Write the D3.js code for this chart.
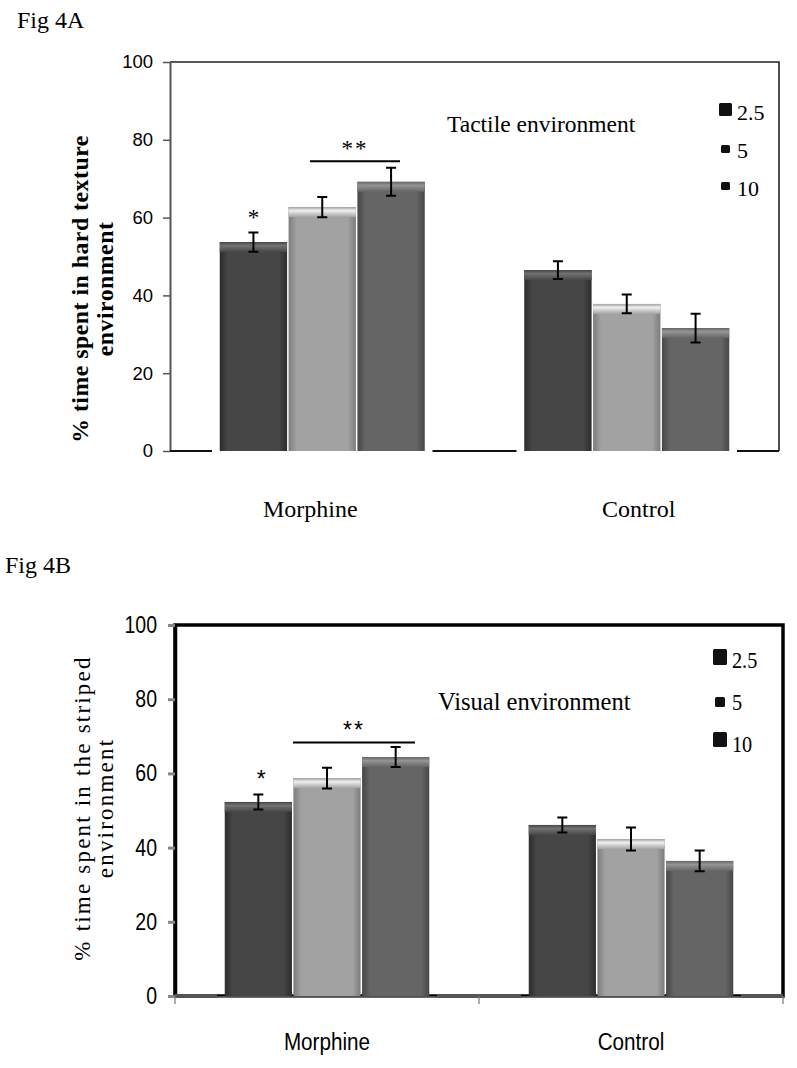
<!DOCTYPE html>
<html><head><meta charset="utf-8">
<script src="https://cdn.jsdelivr.net/npm/d3@7"></script>
<style>html,body{margin:0;padding:0;background:#fff;}svg{display:block;}</style>
</head><body>
<svg id="c" width="797" height="1068"></svg>
<script>
// ---------- data ----------
const categories = ["Morphine", "Control"];
const doses = ["2.5", "5", "10"];
const yTicks = [0, 20, 40, 60, 80, 100];
// Fig 4A: tactile environment (% time in hard texture environment)
const tactileMorphine = [53.7, 62.7, 69.2];
const tactileMorphineErr = [2.5, 2.6, 3.6];
const tactileControl = [46.5, 37.8, 31.6];
const tactileControlErr = [2.3, 2.4, 3.7];
// Fig 4B: visual environment (% time in striped environment)
const visualMorphine = [52.3, 58.7, 64.4];
const visualMorphineErr = [2.0, 2.8, 2.7];
const visualControl = [46.1, 42.3, 36.4];
const visualControlErr = [2.0, 3.1, 2.8];

const SERIF = "Liberation Serif, Times New Roman, serif";
const SANS = "Liberation Sans, Arial, sans-serif";

const svg = d3.select("#c");
const defs = svg.append("defs");
const palette = [
  {base:"#464646", edge:"#2c2c2c", top:"#727272"},
  {base:"#a2a2a2", edge:"#7c7c7c", top:"#f0f0f0"},
  {base:"#656565", edge:"#474747", top:"#959595"}
];
palette.forEach((p,i)=>{
  const g = defs.append("linearGradient").attr("id","side"+i).attr("x1","0").attr("x2","1").attr("y1","0").attr("y2","0");
  g.append("stop").attr("offset","0").attr("stop-color",p.edge);
  g.append("stop").attr("offset","0.12").attr("stop-color",p.base);
  g.append("stop").attr("offset","0.88").attr("stop-color",p.base);
  g.append("stop").attr("offset","1").attr("stop-color",p.edge);
  const t = defs.append("linearGradient").attr("id","top"+i).attr("x1","0").attr("x2","0").attr("y1","0").attr("y2","1");
  t.append("stop").attr("offset","0").attr("stop-color",p.base);
  t.append("stop").attr("offset","0.35").attr("stop-color",p.top);
  t.append("stop").attr("offset","1").attr("stop-color",p.base);
});

function narrow(sel, f){
  if (f === 1) return;
  sel.each(function(){
    const L = this.getComputedTextLength();
    d3.select(this).attr("textLength", L*f).attr("lengthAdjust","spacingAndGlyphs");
  });
}

function panel(cfg){
  const g = svg.append("g");
  const y = d3.scaleLinear().domain([0,100]).range([cfg.y0, cfg.y100]);
  const x0 = d3.scaleBand().domain(categories).range([cfg.xl, cfg.xr]).padding(0);
  const x1 = d3.scaleBand().domain(doses).range([49, x0.bandwidth()-49]).padding(0);
  const groups = [
    {cat:"Morphine", vals:cfg.m, errs:cfg.me},
    {cat:"Control", vals:cfg.c, errs:cfg.ce}
  ];
  // frame
  if (cfg.boldFrame) {
    g.append("rect").attr("x",cfg.xl).attr("y",cfg.y100).attr("width",cfg.frameR-cfg.xl).attr("height",cfg.y0-cfg.y100)
      .attr("fill","none").attr("stroke","#000").attr("stroke-width",3.5);
  } else {
    g.append("path").attr("d",`M${cfg.xl},${cfg.y100}H${cfg.frameR}V${cfg.y0}`)
      .attr("fill","none").attr("stroke","#222").attr("stroke-width",1.6);
  }
  // y axis
  const ya = g.append("g").attr("transform",`translate(${cfg.xl},0)`)
    .call(d3.axisLeft(y).tickValues(yTicks).tickSize(7).tickPadding(cfg.tickPad).tickSizeOuter(0));
  ya.select(".domain").attr("stroke", cfg.boldFrame?"#000":"#555").attr("stroke-width", cfg.boldFrame?3.5:2);
  ya.selectAll(".tick line").attr("stroke", cfg.boldFrame?"#888":"#555").attr("stroke-width", cfg.boldFrame?3:1.5);
  const tt = ya.selectAll(".tick text").attr("font-family",SANS).attr("font-size",cfg.tickSize).attr("fill","#000");
  narrow(tt, cfg.tickNarrow);
  // baseline segments
  const segs = [];
  let prev = cfg.xl;
  groups.forEach(gr=>{
    const gs = x0(gr.cat)+x1(doses[0]);
    const ge = x0(gr.cat)+x1(doses[2])+x1.bandwidth();
    segs.push([prev, gs-7]);
    prev = ge+7;
  });
  segs.push([prev, cfg.frameR]);
  if (cfg.boldFrame) {
    g.append("line").attr("x1",cfg.xl).attr("x2",cfg.frameR).attr("y1",cfg.y0+1).attr("y2",cfg.y0+1).attr("stroke","#999").attr("stroke-width",1.2);
  }
  segs.forEach(s=>{
    g.append("line").attr("x1",s[0]).attr("x2",s[1]).attr("y1",cfg.y0).attr("y2",cfg.y0)
      .attr("stroke", cfg.boldFrame?"#555":"#111").attr("stroke-width", cfg.boldFrame?4:2);
  });
  if (cfg.boldFrame) {
    [cfg.xl, x0("Control"), cfg.frameR].forEach(xx=>{
      g.append("line").attr("x1",xx).attr("x2",xx).attr("y1",cfg.y0).attr("y2",cfg.y0+8).attr("stroke","#777").attr("stroke-width",1.2);
    });
  }
  // bars
  groups.forEach(gr=>{
    gr.vals.forEach((v,i)=>{
      const bx = x0(gr.cat)+x1(doses[i]);
      const bw = x1.bandwidth();
      const by = y(v), bh = cfg.y0 - y(v);
      g.append("rect").attr("x",bx+0.75).attr("y",by).attr("width",bw-1.5).attr("height",bh)
        .attr("fill",`url(#side${i})`);
      g.append("rect").attr("x",bx+0.75).attr("y",by).attr("width",bw-1.5).attr("height",Math.min(10,bh))
        .attr("fill",`url(#top${i})`);
      const cx = bx + bw/2;
      const e = gr.errs[i];
      g.append("path").attr("d",`M${cx-5},${y(v+e)}H${cx+5}M${cx},${y(v+e)}V${y(v-e)}M${cx-5},${y(v-e)}H${cx+5}`)
        .attr("stroke","#000").attr("stroke-width",2).attr("fill","none");
    });
  });
  // significance markers
  const mb = i => x0("Morphine")+x1(doses[i])+x1.bandwidth()/2;
  g.append("text").attr("x",mb(0)+cfg.starDx).attr("y",y(cfg.m[0]+cfg.me[0])+cfg.starDy).attr("text-anchor","middle")
    .attr("font-family",cfg.starFont).attr("font-size",23).text("*");
  g.append("line").attr("x1",cfg.sigL).attr("x2",cfg.sigR).attr("y1",y(cfg.sigY)).attr("y2",y(cfg.sigY))
    .attr("stroke","#000").attr("stroke-width",2);
  g.append("text").attr("x",(cfg.sigL+cfg.sigR)/2).attr("y",y(cfg.sigY)-5).attr("text-anchor","middle")
    .attr("font-family",cfg.starFont).attr("font-size",23).attr("letter-spacing",2).text("**");
  // title
  const ti = g.append("text").attr("x",cfg.titleX).attr("y",cfg.titleY).attr("font-family",SERIF)
    .attr("font-size",cfg.titleSize).text(cfg.title);
  narrow(ti, cfg.titleNarrow);
  // legend
  doses.forEach((d,i)=>{
    const lg = cfg.legend[i];
    g.append("rect").attr("x",lg[0]).attr("y",lg[1]).attr("width",lg[2]).attr("height",lg[3]).attr("rx",1.5).attr("fill","#111");
    const lt = g.append("text").attr("x",cfg.legTextX).attr("y",lg[4]).attr("font-family",SERIF)
      .attr("font-size",cfg.legSize).text(d);
    narrow(lt, cfg.legNarrow);
  });
  // category labels
  categories.forEach((c,i)=>{
    const ct = g.append("text").attr("x",x0(c)+x0.bandwidth()/2 + cfg.catDx[i]).attr("y",cfg.catY).attr("text-anchor","middle")
      .attr("font-family",cfg.catFont).attr("font-size",cfg.catSize).text(c);
    narrow(ct, cfg.catNarrow);
  });
  // y label
  const yl = g.append("text").attr("transform",`translate(${cfg.ylabX},${cfg.ylabY}) rotate(-90)`)
    .attr("text-anchor","middle").attr("font-family",SERIF)
    .attr("font-size",cfg.ylabSize).attr("font-weight",cfg.ylabWeight).attr("letter-spacing",cfg.ylabLS);
  yl.append("tspan").attr("x",0).attr("dy",0).text(cfg.ylab1);
  yl.append("tspan").attr("x",0).attr("dy",cfg.ylabGap).text(cfg.ylab2);
  // fig label
  svg.append("text").attr("x",cfg.figX).attr("y",cfg.figY).attr("font-family",SERIF)
    .attr("font-size",24).text(cfg.fig);
}

panel({
  fig:"Fig 4A", figX:17, figY:28,
  xl:170, xr:779, frameR:779, y0:451, y100:62, boldFrame:false,
  tickSize:18.5, tickPad:10, tickNarrow:1,
  m:tactileMorphine, me:tactileMorphineErr, c:tactileControl, ce:tactileControlErr,
  starFont:SERIF, starDx:0, starDy:-7,
  sigL:310, sigR:400, sigY:74.5,
  title:"Tactile environment", titleX:447, titleY:132, titleSize:23.5, titleNarrow:1,
  legend:[[719,103,13,13,120],[721,145,9,8,158],[721,182,9,8,196]], legTextX:737, legSize:22, legNarrow:1,
  catFont:SERIF, catSize:24, catY:517, catDx:[-12, 12], catNarrow:1,
  ylab1:"% time spent in hard texture", ylab2:"environment", ylabX:88, ylabY:289, ylabSize:23.8, ylabWeight:"bold", ylabLS:0.5, ylabGap:25
});

panel({
  fig:"Fig 4B", figX:5, figY:573,
  xl:175, xr:783, frameR:783, y0:996, y100:625, boldFrame:true,
  tickSize:23.5, tickPad:11, tickNarrow:0.83,
  m:visualMorphine, me:visualMorphineErr, c:visualControl, ce:visualControlErr,
  starFont:SANS, starDx:3, starDy:-8,
  sigL:293, sigR:415, sigY:68.3,
  title:"Visual environment", titleX:438, titleY:710, titleSize:25, titleNarrow:0.98,
  legend:[[713,649,14,16,668],[715,697,10,10,710],[713,732,14,15,752]], legTextX:732, legSize:23, legNarrow:0.88,
  catFont:SANS, catSize:23.5, catY:1050, catDx:[0, 0], catNarrow:0.88,
  ylab1:"% time spent in the striped", ylab2:"environment", ylabX:90, ylabY:808, ylabSize:23, ylabWeight:"normal", ylabLS:2.2, ylabGap:23
});
</script>
</body></html>
